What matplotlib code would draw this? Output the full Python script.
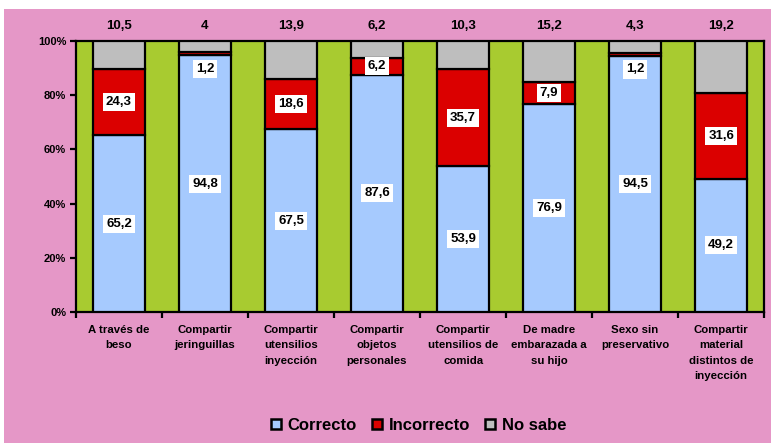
import numpy as np
import matplotlib
matplotlib.use("Agg")
import matplotlib.pyplot as plt
from matplotlib.patches import Rectangle
from matplotlib.ticker import FuncFormatter

plt.rcParams['font.family'] = ['Liberation Sans', 'DejaVu Sans']

# data
categorias = ["A través de\nbeso", "Compartir\njeringuillas", "Compartir\nutensilios\ninyección",
              "Compartir\nobjetos\npersonales", "Compartir\nutensilios de\ncomida",
              "De madre\nembarazada a\nsu hijo", "Sexo sin\npreservativo",
              "Compartir\nmaterial\ndistintos de\ninyección"]
correcto = [65.2, 94.8, 67.5, 87.6, 53.9, 76.9, 94.5, 49.2]
incorrecto = [24.3, 1.2, 18.6, 6.2, 35.7, 7.9, 1.2, 31.6]
no_sabe = [10.5, 4, 13.9, 6.2, 10.3, 15.2, 4.3, 19.2]

c_pink = '#E597C7'
c_green = '#A8CB30'
c_blue = '#A6CAFE'
c_red = '#DB0000'
c_gray = '#BEBEBE'

fig = plt.figure(figsize=(7.75, 4.43), dpi=100, facecolor='white')
fig.patches.append(Rectangle((0.005, 0.0), 0.99, 0.98, transform=fig.transFigure,
                             facecolor=c_pink, edgecolor='none', zorder=-10))

ax = fig.add_axes([0.098, 0.2957, 0.888, 0.6117])
ax.set_facecolor(c_green)

x = np.arange(len(categorias))
corr = np.array(correcto)
inc = np.array(incorrecto)
ns = 100 - corr - inc  # top segment fills to 100 %

w = 0.6
kw = dict(width=w, edgecolor='black', linewidth=1.6, zorder=3)
ax.bar(x, corr, color=c_blue, label='Correcto', **kw)
ax.bar(x, inc, bottom=corr, color=c_red, label='Incorrecto', **kw)
ax.bar(x, ns, bottom=corr + inc, color=c_gray, label='No sabe', **kw)

box = dict(facecolor='white', edgecolor='none', pad=2.2)
for i in range(len(x)):
    ax.text(x[i], corr[i] / 2, f"{correcto[i]:.1f}".replace('.', ','), ha='center', va='center',
            fontsize=9.5, fontweight='bold', bbox=box, zorder=5)
    if inc[i] < 3:
        yi = corr[i] - 5
    else:
        yi = corr[i] + inc[i] / 2
    ax.text(x[i], yi, f"{incorrecto[i]:.1f}".replace('.', ','), ha='center', va='center',
            fontsize=9.5, fontweight='bold', bbox=box, zorder=5)
    lab = f"{no_sabe[i]:g}".replace('.', ',')
    ax.text(x[i], 105.5, lab, ha='center', va='center', fontsize=9.5, fontweight='bold',
            clip_on=False)

ax.set_xlim(-0.5, len(x) - 0.5)
ax.set_ylim(0, 100)
ax.set_yticks(np.arange(0, 101, 20))
ax.yaxis.set_major_formatter(FuncFormatter(lambda v, p: f"{v:.0f}%"))
ax.set_xticks(np.arange(-0.5, len(x), 1))
ax.set_xticklabels([])
ax.set_xticks(x, minor=True)
ax.set_xticklabels(categorias, minor=True, fontsize=8.2, fontweight='bold', linespacing=1.7)
ax.tick_params(axis='x', which='minor', length=0, pad=9)
ax.tick_params(axis='x', which='major', length=4, width=1.6, direction='out')
ax.tick_params(axis='y', length=4, width=1.6, direction='out', labelsize=8, pad=3)
for lbl in ax.get_yticklabels():
    lbl.set_fontweight('bold')
for s in ax.spines.values():
    s.set_linewidth(1.6)
    s.set_color('black')

leg = fig.legend(loc='center', bbox_to_anchor=(0.54, 0.04), ncol=3, frameon=False,
                 prop={'size': 12, 'weight': 'bold'}, handlelength=0.6, handleheight=0.6,
                 handletextpad=0.4, columnspacing=0.9)
for h in leg.legend_handles:
    h.set_linewidth(1.8)

fig.savefig('out.png', dpi=100, facecolor=fig.get_facecolor())
